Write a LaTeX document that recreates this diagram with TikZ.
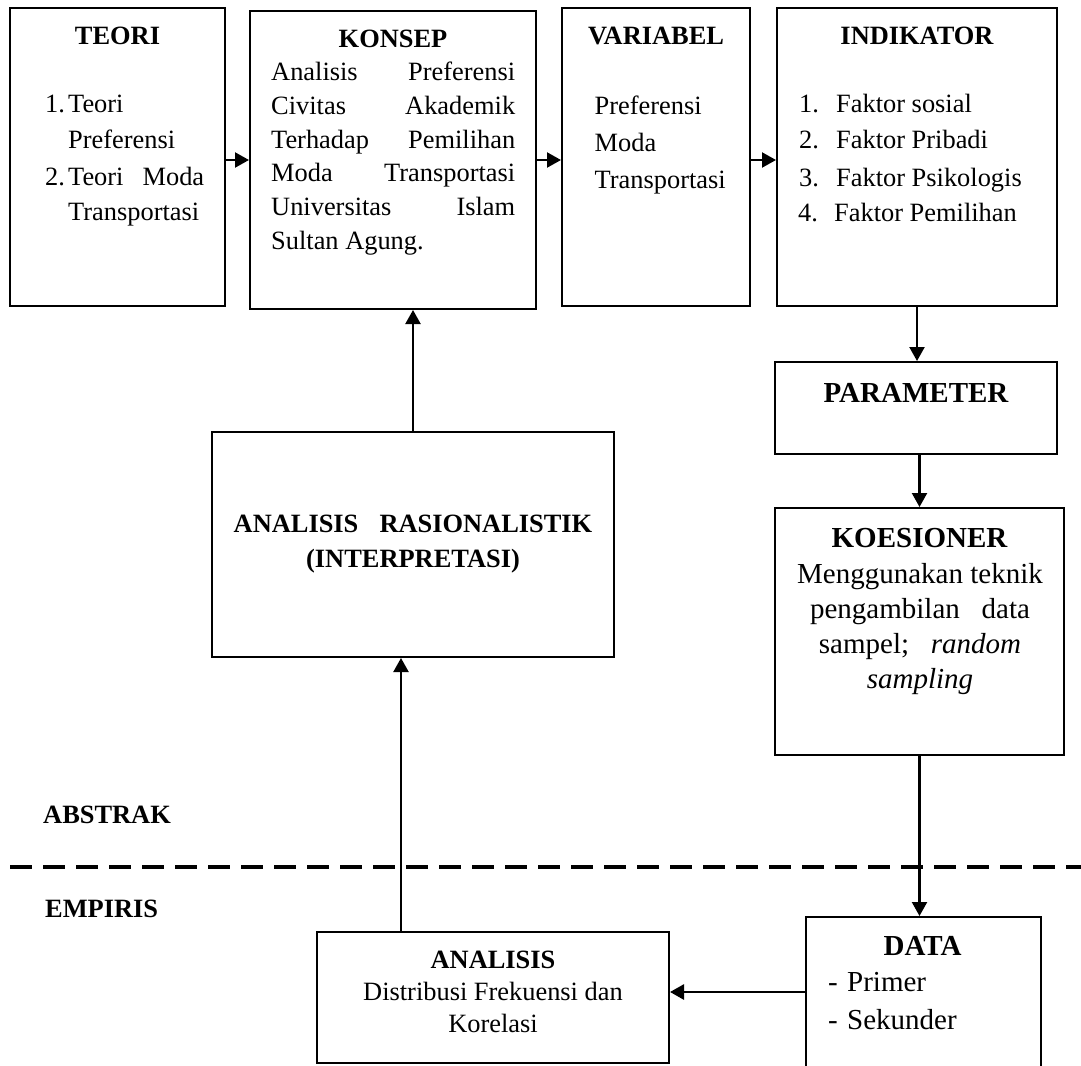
\documentclass[tikz,border=0pt]{standalone}
\usepackage{fontspec}
\setmainfont{Liberation Serif}
\usetikzlibrary{arrows.meta}
\newcommand\fsA{\fontsize{26.4}{32}\selectfont}
\newcommand\fsB{\fontsize{29}{35}\selectfont}
\tikzset{
  box/.style={draw, line width=2pt, inner sep=0pt},
  txt/.style={inner sep=0pt, font=\fsA},
  txtb/.style={inner sep=0pt, font=\fsA\bfseries},
  rtxt/.style={inner sep=0pt, font=\fsB},
  rtxtb/.style={inner sep=0pt, font=\fsB\bfseries},
  arr/.style={line width=2.2pt, -{Triangle[length=14pt,width=15pt]}},
  dashline/.style={line width=3.5pt, dash pattern=on 22pt off 11pt}
}
\begin{document}
\begin{tikzpicture}[x=1pt,y=-1pt]
\useasboundingbox (0,0) rectangle (1081,1065);
\clip (0,0) rectangle (1081,1065);
% boxes
\node[box, minimum width=215pt, minimum height=298pt] (teori) at (117.5,157) {};
\node[box, minimum width=286pt, minimum height=298pt] (konsep) at (393,160) {};
\node[box, minimum width=188pt, minimum height=298pt] (variabel) at (656,157) {};
\node[box, minimum width=280pt, minimum height=298pt] (indikator) at (917,157) {};
\node[box, minimum width=282pt, minimum height=92pt] (parameter) at (916,408) {};
\node[box, minimum width=289pt, minimum height=247pt] (koesioner) at (919.5,631.5) {};
\node[box, minimum width=402pt, minimum height=225pt] (ras) at (413,544.5) {};
\node[box, minimum width=352pt, minimum height=131pt] (analisis) at (493,997.5) {};
\node[box, minimum width=235pt, minimum height=173pt] (data) at (923.5,1003.5) {};
% TEORI
\node[txtb, anchor=base] (teoriT) at (117.5,45) {TEORI};
\node[txt, anchor=base west] (tn1) at (45,112) {1.};
\node[txt, anchor=base west] (tl1) at (68,112) {Teori};
\node[txt, anchor=base west] (tl2) at (68,148) {Preferensi};
\node[txt, anchor=base west] (tn2) at (45,185) {2.};
\node[txt, anchor=base west] (tl3) at (68,185) {\makebox[136pt][s]{Teori\hfill Moda}};
\node[txt, anchor=base west] (tl4) at (68,220) {Transportasi};
% KONSEP
\node[txtb, anchor=base] (konsepT) at (393,48) {KONSEP};
\node[txt, anchor=base west] (k1) at (271,81) {\makebox[244pt][s]{Analisis\hfill Preferensi}};
\node[txt, anchor=base west] (k2) at (271,114) {\makebox[244pt][s]{Civitas\hfill Akademik}};
\node[txt, anchor=base west] (k3) at (271,148) {\makebox[244pt][s]{Terhadap\hfill Pemilihan}};
\node[txt, anchor=base west] (k4) at (271,181) {\makebox[244pt][s]{Moda\hfill Transportasi}};
\node[txt, anchor=base west] (k5) at (271,215) {\makebox[244pt][s]{Universitas\hfill Islam}};
\node[txt, anchor=base west] (k6) at (271,249.5) {Sultan Agung.};
% VARIABEL
\node[txtb, anchor=base] (variabelT) at (656,45) {VARIABEL};
\node[txt, anchor=base west] (v1) at (594.5,114) {Preferensi};
\node[txt, anchor=base west] (v2) at (594.5,151) {Moda};
\node[txt, anchor=base west] (v3) at (594.5,188) {Transportasi};
% INDIKATOR
\node[txtb, anchor=base] (indikatorT) at (917,45) {INDIKATOR};
\node[txt, anchor=base west] (in1) at (799,112) {1.};
\node[txt, anchor=base west] (i1) at (836,112) {Faktor sosial};
\node[txt, anchor=base west] (in2) at (799,148) {2.};
\node[txt, anchor=base west] (i2) at (836,148) {Faktor Pribadi};
\node[txt, anchor=base west] (in3) at (799,186) {3.};
\node[txt, anchor=base west] (i3) at (836,186) {Faktor Psikologis};
\node[txt, anchor=base west] (in4) at (798,221) {4.};
\node[txt, anchor=base west] (i4) at (834,221) {Faktor Pemilihan};
% PARAMETER
\node[rtxtb, anchor=base] (parameterT) at (916,402) {PARAMETER};
% KOESIONER
\node[rtxtb, anchor=base] (koesionerT) at (919.5,547) {KOESIONER};
\node[rtxt, anchor=base] (q1) at (920,583) {Menggunakan teknik};
\node[rtxt, anchor=base] (q2) at (920,618) {pengambilan\hspace{0.5em} data};
\node[rtxt, anchor=base] (q3) at (920,653) {sampel;\hspace{0.5em} \textit{random}};
\node[rtxt, anchor=base] (q4) at (920,688) {\textit{sampling}};
% ANALISIS RASIONALISTIK
\node[txtb, anchor=base] (r1) at (413,532) {ANALISIS\hspace{0.55em} RASIONALISTIK};
\node[txtb, anchor=base] (r2) at (413,567) {(INTERPRETASI)};
% side labels
\node[txtb, anchor=base west] (abstrak) at (43,823) {ABSTRAK};
\node[txtb, anchor=base west] (empiris) at (45,917) {EMPIRIS};
% ANALISIS
\node[txtb, anchor=base] (a1) at (493,968) {ANALISIS};
\node[txt, anchor=base] (a2) at (493,1000) {Distribusi Frekuensi dan};
\node[txt, anchor=base] (a3) at (493,1032) {Korelasi};
% DATA
\node[rtxtb, anchor=base] (dataT) at (922.5,955) {DATA};
\node[rtxt, anchor=base west] (dn1) at (828,991) {-};
\node[rtxt, anchor=base west] (d1) at (847,991) {Primer};
\node[rtxt, anchor=base west] (dn2) at (828,1029) {-};
\node[rtxt, anchor=base west] (d2) at (847,1029) {Sekunder};
% separator
\coordinate (sepL) at (10,867);
\coordinate (sepR) at (1081,867);
\draw[dashline] (sepL) -- (sepR);
% connectors
\coordinate (ax) at (401,0);
\coordinate (dy) at (0,992);
\draw[arr] (teori.east |- konsep.west) -- (konsep.west);
\draw[arr] (konsep.east) -- (konsep.east -| variabel.west);
\draw[arr] (variabel.east |- konsep.east) -- (indikator.west |- konsep.east);
\draw[arr] (indikator.south) -- (indikator.south |- parameter.north);
\draw[arr] (koesioner.north |- parameter.south) -- (koesioner.north);
\draw[arr] (koesioner.south) -- (koesioner.south |- data.north);
\draw[arr] (ras.north) -- (ras.north |- konsep.south);
\draw[arr] (analisis.north -| ax) -- (ras.south -| ax);
\draw[arr, line width=2.8pt] (data.west |- dy) -- (analisis.east |- dy);
\end{tikzpicture}
\end{document}
